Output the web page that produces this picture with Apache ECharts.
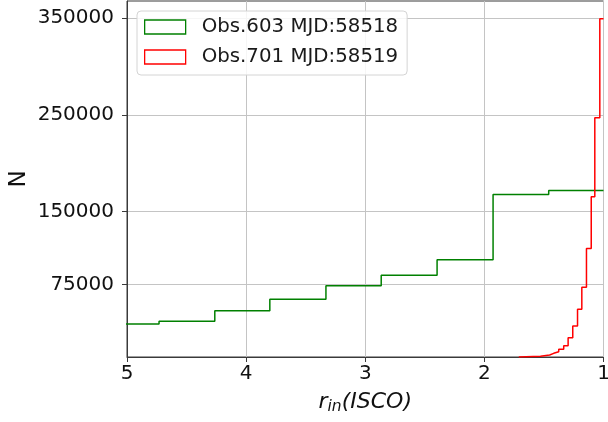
<!DOCTYPE html>
<html>
<head>
<meta charset="utf-8">
<script src="https://cdn.jsdelivr.net/npm/echarts@6/dist/echarts.min.js"></script>
<style>
  html, body { margin: 0; padding: 0; background: #ffffff; }
  #chart { width: 608px; height: 422px; }
</style>
</head>
<body>
<div id="chart"></div>
<script>
// Histogram of the fitted inner-disc radius (in units of r_ISCO) for two observations.
const seriesNames = ['Obs.603 MJD:58518', 'Obs.701 MJD:58519'];

// x-axis (reversed) and y-axis tick values
const xTicks = [5, 4, 3, 2, 1];
const yTicks = [75000, 150000, 250000, 350000];

// Obs.603: bin edges (descending r_in) and counts per bin
const obs603Edges = [5.199, 4.731, 4.263, 3.801, 3.330, 2.866, 2.397, 1.927, 1.460, 1.0];
const obs603Counts = [34000, 36800, 47700, 59500, 73500, 84500, 100300, 167700, 171900];

// Obs.701: bin edges (descending r_in) and counts per bin
const obs701Edges = [1.711, 1.529, 1.452, 1.418, 1.376, 1.334, 1.297, 1.258, 1.218, 1.182, 1.143, 1.103, 1.073, 1.031, 1.0];
const obs701Counts = [800, 2000, 3800, 5500, 7900, 11600, 19900, 32000, 49200, 71900, 112000, 165300, 247100, 349200];

const colors = ['#008000', '#ff0000'];
const FONT = 'DejaVu Sans';

// Outline of a step histogram: rise at the first edge, then flat tops joined by vertical steps.
// The closing drop at the last edge lies on the right frame and is left out.
function stepOutline(edges, counts) {
  const pts = [[edges[0], 0]];
  for (let i = 0; i < counts.length; i++) {
    pts.push([edges[i], counts[i]]);
    pts.push([edges[i + 1], counts[i]]);
  }
  return pts;
}

const chart = echarts.init(document.getElementById('chart'), null, { renderer: 'canvas' });

chart.setOption({
  animation: false,
  backgroundColor: '#ffffff',
  grid: {
    left: 127, right: 4.5, top: 1, bottom: 65,
    containLabel: false,
    outerBoundsMode: 'none',
    show: true, borderColor: '#3a3a3a', borderWidth: 1, backgroundColor: 'transparent'
  },
  legend: {
    left: 137, top: 11,
    orient: 'vertical',
    padding: [5, 9, 7, 7],
    itemWidth: 41, itemHeight: 14, itemGap: 8,
    backgroundColor: 'rgba(255,255,255,0.85)',
    borderColor: '#d4d4d4', borderWidth: 1, borderRadius: 4,
    textStyle: { fontFamily: FONT, fontSize: 19.8, color: '#1a1a1a', lineHeight: 22, padding: [0, 0, 0, 11] },
    data: seriesNames.map((n, i) => ({
      name: n,
      icon: 'rect',
      itemStyle: { color: 'rgba(0,0,0,0)', borderColor: colors[i], borderWidth: 1.3 }
    }))
  },
  xAxis: {
    type: 'value',
    inverse: true,
    min: 1, max: 5, interval: 1,
    name: '{it|r}{sub|in}{it|(ISCO)}',
    nameLocation: 'middle',
    nameGap: 34,
    nameMoveOverlap: false,
    nameTextStyle: {
      fontFamily: FONT, fontSize: 22, color: '#111',
      rich: {
        it: { fontFamily: FONT, fontSize: 22, fontStyle: 'italic', color: '#111', lineHeight: 24, verticalAlign: 'top' },
        sub: { fontFamily: FONT, fontSize: 15.5, fontStyle: 'italic', color: '#111', lineHeight: 16, padding: [10, 0, 0, 0], verticalAlign: 'bottom' }
      }
    },
    axisLine: { show: true, onZero: false, lineStyle: { color: '#3a3a3a', width: 1 } },
    axisTick: { show: true, length: 5, lineStyle: { color: '#3a3a3a', width: 1 } },
    axisLabel: {
      fontFamily: FONT, fontSize: 20, color: '#111', margin: 7,
      customValues: xTicks,
      formatter: v => String(v)
    },
    splitLine: { show: true, lineStyle: { color: '#c4c4c4', width: 1 } }
  },
  yAxis: {
    type: 'value',
    min: 0, max: 367500,
    name: 'N',
    nameLocation: 'middle',
    nameGap: 96,
    nameMoveOverlap: false,
    nameTextStyle: { fontFamily: FONT, fontSize: 23, color: '#111' },
    axisLine: { show: true, onZero: false, lineStyle: { color: '#3a3a3a', width: 1 } },
    axisTick: { show: true, length: 5, customValues: yTicks, lineStyle: { color: '#3a3a3a', width: 1 } },
    axisLabel: {
      fontFamily: FONT, fontSize: 20, color: '#111', margin: 13,
      customValues: yTicks,
      formatter: v => String(v)
    },
    splitLine: { show: true, lineStyle: { color: '#c4c4c4', width: 1 } }
  },
  series: [
    {
      name: seriesNames[0],
      type: 'line',
      data: stepOutline(obs603Edges, obs603Counts),
      showSymbol: false, symbol: 'none',
      clip: true,
      color: colors[0],
      lineStyle: { color: colors[0], width: 1.5 },
      z: 3
    },
    {
      name: seriesNames[1],
      type: 'line',
      data: stepOutline(obs701Edges, obs701Counts),
      showSymbol: false, symbol: 'none',
      clip: true,
      color: colors[1],
      lineStyle: { color: colors[1], width: 1.5 },
      z: 4
    }
  ]
});
</script>
</body>
</html>
